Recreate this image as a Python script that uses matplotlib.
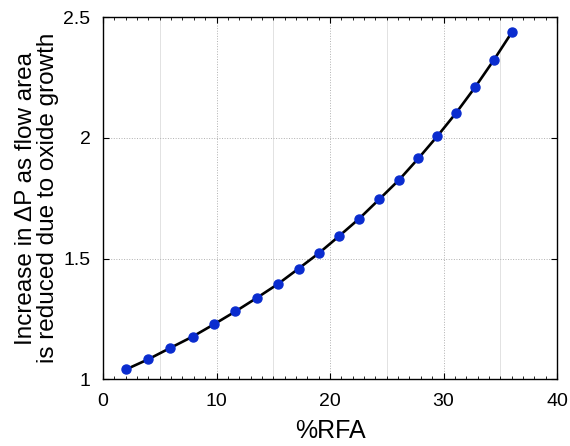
import matplotlib
matplotlib.use("Agg")
import matplotlib.pyplot as plt
from matplotlib.ticker import MultipleLocator

plt.rcParams["font.family"] = ["Liberation Sans", "DejaVu Sans"]

# values
rfa = [2.03, 3.99, 5.93, 7.90, 9.78, 11.66, 13.54, 15.42, 17.24, 19.03,
       20.79, 22.58, 24.34, 26.10, 27.78, 29.45, 31.13, 32.78, 34.42, 36.04]
dp_increase = [1.041, 1.083, 1.130, 1.177, 1.228, 1.281, 1.337, 1.395, 1.459, 1.523,
               1.593, 1.666, 1.746, 1.827, 1.915, 2.007, 2.105, 2.210, 2.322, 2.439]

fig = plt.figure(figsize=(5.7, 4.46), dpi=100)
ax = fig.add_axes([103 / 570, 1 - 379.3 / 446, 454 / 570, 362 / 446])

ax.plot(rfa, dp_increase, color="black", linewidth=1.9, zorder=3)
ax.plot(rfa, dp_increase, linestyle="none", marker="o", markersize=6.5,
        color="#0a2ccf", zorder=4)

ax.set_xlim(0, 40)
ax.set_ylim(1, 2.5)
ax.set_xticks([0, 10, 20, 30, 40])
ax.set_yticks([1, 1.5, 2, 2.5])
ax.set_yticklabels(["1", "1.5", "2", "2.5"])
ax.xaxis.set_minor_locator(MultipleLocator(1))

ax.grid(which="major", color="#b0b0b0", linewidth=0.7, linestyle=":")
for xv in [5, 15, 25, 35]:
    ax.axvline(xv, color="#e2e2e2", linewidth=0.7, zorder=0)

ax.tick_params(which="both", direction="in", top=True, right=True,
               labelsize=14)
ax.tick_params(axis="x", pad=10)
ax.tick_params(axis="y", pad=9)
ax.tick_params(which="major", length=4)
ax.tick_params(which="minor", length=2.5)
for s in ax.spines.values():
    s.set_linewidth(1.0)

ax.set_xlabel("%RFA", fontsize=18, labelpad=6)
ax.set_ylabel("Increase in ΔP as flow area\nis reduced due to oxide growth",
              fontsize=17.5, labelpad=3, linespacing=1.0)

fig.savefig("out.png", dpi=100)
